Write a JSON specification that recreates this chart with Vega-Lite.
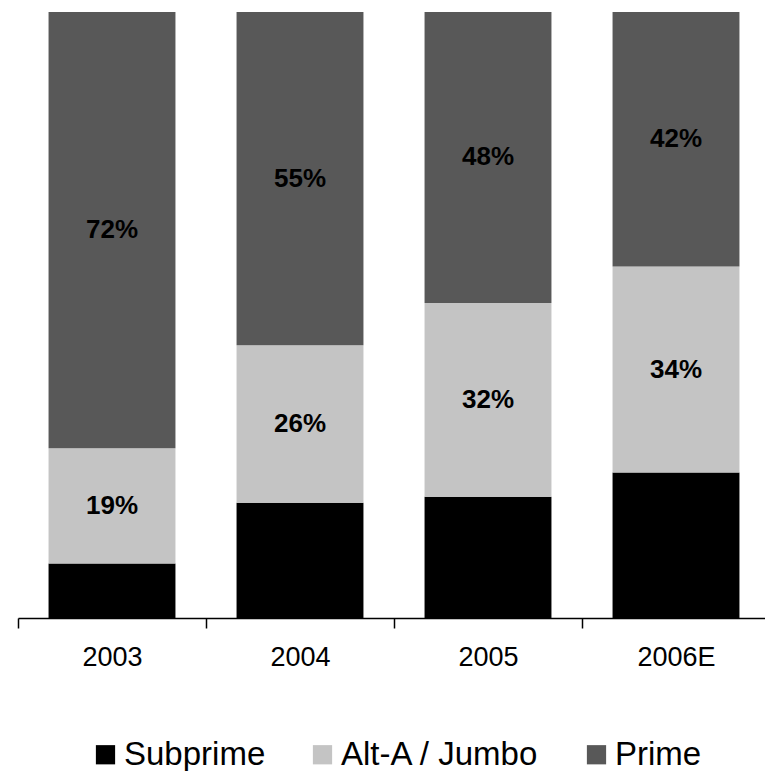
{
  "$schema": "https://vega.github.io/schema/vega-lite/v6.json",
  "autosize": {"type": "none"},
  "padding": {"left": 18, "top": 12, "right": 0, "bottom": 153},
  "width": 752,
  "height": 606,
  "background": "white",
  "data": {
    "values": [
      {"year": "2003", "segment": "Subprime", "rank": 1, "share": 0.09},
      {"year": "2003", "segment": "Alt-A / Jumbo", "rank": 2, "share": 0.19},
      {"year": "2003", "segment": "Prime", "rank": 3, "share": 0.72},
      {"year": "2004", "segment": "Subprime", "rank": 1, "share": 0.19},
      {"year": "2004", "segment": "Alt-A / Jumbo", "rank": 2, "share": 0.26},
      {"year": "2004", "segment": "Prime", "rank": 3, "share": 0.55},
      {"year": "2005", "segment": "Subprime", "rank": 1, "share": 0.20},
      {"year": "2005", "segment": "Alt-A / Jumbo", "rank": 2, "share": 0.32},
      {"year": "2005", "segment": "Prime", "rank": 3, "share": 0.48},
      {"year": "2006E", "segment": "Subprime", "rank": 1, "share": 0.24},
      {"year": "2006E", "segment": "Alt-A / Jumbo", "rank": 2, "share": 0.34},
      {"year": "2006E", "segment": "Prime", "rank": 3, "share": 0.42}
    ]
  },
  "encoding": {
    "x": {
      "field": "year",
      "type": "nominal",
      "sort": ["2003", "2004", "2005", "2006E"],
      "scale": {"paddingInner": 0.325, "paddingOuter": 0.1625},
      "axis": {
        "title": null,
        "labelAngle": 0,
        "labelFont": "Liberation Sans",
        "labelFontSize": 27,
        "labelColor": "black",
        "labelPadding": 16,
        "domainColor": "black",
        "domainWidth": 1.5,
        "tickColor": "black",
        "tickWidth": 1.5,
        "tickSize": 10,
        "tickOffset": -94,
        "labelOffset": 94
      }
    },
    "order": {"field": "rank", "type": "quantitative", "sort": "ascending"}
  },
  "layer": [
    {
      "mark": {"type": "bar"},
      "encoding": {
        "y": {
          "field": "share",
          "type": "quantitative",
          "stack": "zero",
          "scale": {"domain": [0, 1], "nice": false},
          "axis": null
        },
        "color": {
          "field": "segment",
          "type": "nominal",
          "scale": {
            "domain": ["Subprime", "Alt-A / Jumbo", "Prime"],
            "range": ["#000000", "#c4c4c4", "#585858"]
          },
          "legend": {
            "title": null,
            "orient": "none",
            "legendX": 71,
            "legendY": 726,
            "direction": "horizontal",
            "symbolType": "square",
            "symbolSize": 370,
            "symbolStrokeWidth": 0,
            "symbolOpacity": 1,
            "labelFont": "Liberation Sans",
            "labelFontSize": 33,
            "labelColor": "black",
            "labelLimit": 400,
            "labelOffset": 2,
            "columnPadding": 40
          }
        }
      }
    },
    {
      "mark": {
        "type": "text",
        "font": "Liberation Sans",
        "fontSize": 26,
        "fontWeight": "bold",
        "color": "black",
        "baseline": "middle"
      },
      "encoding": {
        "y": {
          "field": "share",
          "type": "quantitative",
          "stack": "zero",
          "bandPosition": 0.5
        },
        "detail": {"field": "segment", "type": "nominal"},
        "text": {"field": "share", "type": "quantitative", "format": ".0%"}
      }
    }
  ],
  "config": {
    "view": {"stroke": null}
  }
}
